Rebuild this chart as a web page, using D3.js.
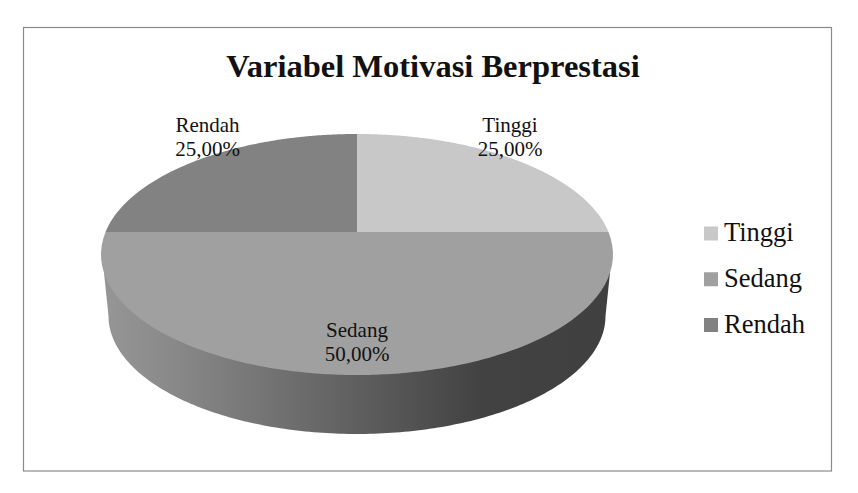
<!DOCTYPE html>
<html><head><meta charset="utf-8">
<script src="https://cdn.jsdelivr.net/npm/d3@7"></script>
<style>html,body{margin:0;padding:0;background:#fff}svg{display:block}text{font-family:"Liberation Serif","Times New Roman",serif;fill:#111}</style>
</head><body><svg id="c" width="858" height="493"></svg>
<script>
const categories = ["Tinggi","Sedang","Rendah"];
const values = [25,50,25];
const valueLabels = ["25,00%","50,00%","25,00%"];
const colors = ["#c8c8c8","#a0a0a0","#828282"];
const chartTitle = "Variabel Motivasi Berprestasi";

(function(){
const svg = d3.select("#c");
svg.append("rect").attr("x",23.5).attr("y",27.5).attr("width",808).attr("height",443.5)
  .attr("fill","#fff").attr("stroke","#8a8a8a").attr("stroke-width",1.2);

svg.append("text").attr("x",433).attr("y",77).attr("text-anchor","middle")
  .attr("font-size",32.5).attr("font-weight","bold").text(chartTitle);

const apex={x:357,y:232}, face={cx:357,cy:254.5,rx:256,ry:120.5}, bot={cx:357,cy:316,rx:248.5,ry:118};

const grad=svg.append("defs").append("linearGradient").attr("id","wall")
  .attr("gradientUnits","userSpaceOnUse").attr("x1",bot.cx-bot.rx).attr("x2",bot.cx+bot.rx).attr("y1",0).attr("y2",0);
[[0,"#959595"],[0.12,"#8a8a8a"],[0.5,"#5f5f5f"],[0.75,"#424242"],[1,"#404040"]]
  .forEach(s=>grad.append("stop").attr("offset",s[0]).attr("stop-color",s[1]));

function rim(a){
  const dx=Math.sin(a), dy=-Math.cos(a);
  const ox=apex.x-face.cx, oy=apex.y-face.cy;
  const A=dx*dx/(face.rx*face.rx)+dy*dy/(face.ry*face.ry);
  const B=2*(ox*dx/(face.rx*face.rx)+oy*dy/(face.ry*face.ry));
  const C=ox*ox/(face.rx*face.rx)+oy*oy/(face.ry*face.ry)-1;
  const t=(-B+Math.sqrt(B*B-4*A*C))/(2*A);
  return [apex.x+t*dx,apex.y+t*dy];
}
const pie=d3.pie().sort(null).value(d=>d)(values);
const line=d3.line();
const sample=(a0,a1)=>d3.range(0,121).map(i=>rim(a0+(a1-a0)*i/120));

const tangent=0.154;
const wallPts=[[face.cx-face.rx*Math.cos(tangent),face.cy+face.ry*Math.sin(tangent)]];
d3.range(0,181).forEach(i=>{const t=Math.PI*i/180;wallPts.push([bot.cx-bot.rx*Math.cos(t),bot.cy+bot.ry*Math.sin(t)]);});
wallPts.push([face.cx+face.rx*Math.cos(tangent),face.cy+face.ry*Math.sin(tangent)]);
svg.append("path").attr("d",line(wallPts)+"Z").attr("fill","url(#wall)");

svg.selectAll("path.slice").data(pie).join("path").attr("class","slice")
  .attr("fill",(d,i)=>colors[i])
  .attr("d",d=>line([[apex.x,apex.y],...sample(d.startAngle,d.endAngle)])+"Z");

const labelX=[510,357,207.5], labelY=[132,337,132];
categories.forEach((c,i)=>{
  const t=svg.append("text").attr("text-anchor","middle").attr("font-size",21);
  t.append("tspan").attr("x",labelX[i]).attr("y",labelY[i]).text(c);
  t.append("tspan").attr("x",labelX[i]).attr("y",labelY[i]+23.5).text(valueLabels[i]);
});

const legY=d3.scalePoint().domain(categories).range([233.5,325]);
const leg=svg.selectAll("g.leg").data(categories).join("g").attr("class","leg");
leg.append("rect").attr("x",704).attr("y",d=>legY(d)-7).attr("width",14).attr("height",14).attr("fill",(d,i)=>colors[i]);
leg.append("text").attr("x",724).attr("y",d=>legY(d)+7.5).attr("font-size",26.5).text(d=>d);
})();
</script></body></html>
